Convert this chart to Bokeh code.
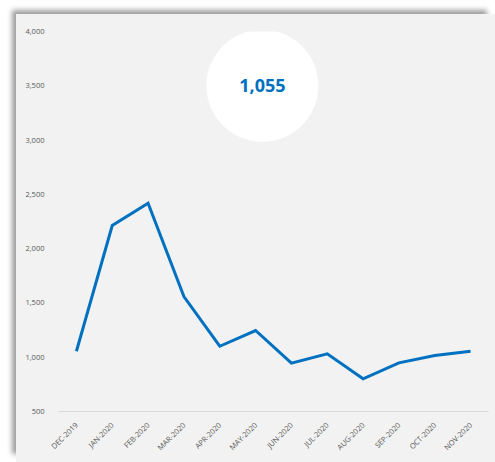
import math
from bokeh.plotting import figure
from bokeh.layouts import column, row
from bokeh.models import Range1d, FixedTicker, Label, Spacer
from bokeh.embed import file_html
from bokeh.resources import INLINE

months = ["DEC-2019", "JAN-2020", "FEB-2020", "MAR-2020", "APR-2020", "MAY-2020",
          "JUN-2020", "JUL-2020", "AUG-2020", "SEP-2020", "OCT-2020", "NOV-2020"]
values = [1055, 2213, 2418, 1559, 1101, 1246, 945, 1031, 801, 948, 1016, 1055]
y_ticks = [500, 1000, 1500, 2000, 2500, 3000, 3500, 4000]
highlight_value = values[-1]

xs = list(range(len(months)))

p = figure(width=479, height=448, output_backend="svg", toolbar_location=None,
           x_range=Range1d(-0.5, len(months) - 0.5), y_range=Range1d(500, 4000),
           min_border_left=42, min_border_right=7, min_border_top=17, min_border_bottom=51,
           background_fill_color="#f2f2f2", border_fill_color="#f2f2f2",
           outline_line_color=None,
           styles={"background-color": "#f2f2f2",
                   "box-shadow": "-6px -6px 5px -2px rgba(0,0,0,0.38)"})

p.xgrid.grid_line_color = None
p.ygrid.grid_line_color = None

# y axis
p.yaxis.ticker = FixedTicker(ticks=y_ticks)
p.yaxis.major_label_overrides = {v: f"{v:,}" for v in y_ticks}
p.yaxis.axis_line_color = None
p.yaxis.major_tick_line_color = None
p.yaxis.minor_tick_line_color = None
p.yaxis.major_label_text_font = "Open Sans"
p.yaxis.major_label_text_font_size = "7.5px"
p.yaxis.major_label_text_color = "#595959"
p.yaxis.major_label_standoff = 8

# x axis
p.xaxis.ticker = FixedTicker(ticks=xs)
p.xaxis.major_label_overrides = {i: m for i, m in enumerate(months)}
p.xaxis.axis_line_color = "#d9d9d9"
p.xaxis.axis_line_width = 1
p.xaxis.major_tick_line_color = None
p.xaxis.minor_tick_line_color = None
p.xaxis.major_label_orientation = math.pi / 4
p.xaxis.major_label_text_font = "Open Sans"
p.xaxis.major_label_text_font_size = "7.5px"
p.xaxis.major_label_text_color = "#595959"
p.xaxis.major_label_standoff = 6

p.line(xs, values, line_color="#0070c0", line_width=3, line_join="miter")

# highlight bubble with the latest value
p.scatter([5.19], [3500], marker="circle", size=112, fill_color="white", line_color=None)
p.add_layout(Label(x=5.19, y=3500, text=f"{highlight_value:,}", text_align="center",
                   text_baseline="middle", text_font="Open Sans", text_font_style="bold",
                   text_font_size="18px", text_color="#0070c0"))

layout = column(Spacer(width=495, height=14),
                row(Spacer(width=16, height=448), p, spacing=0),
                spacing=0)

open("out.html", "w").write(file_html(layout, INLINE))
